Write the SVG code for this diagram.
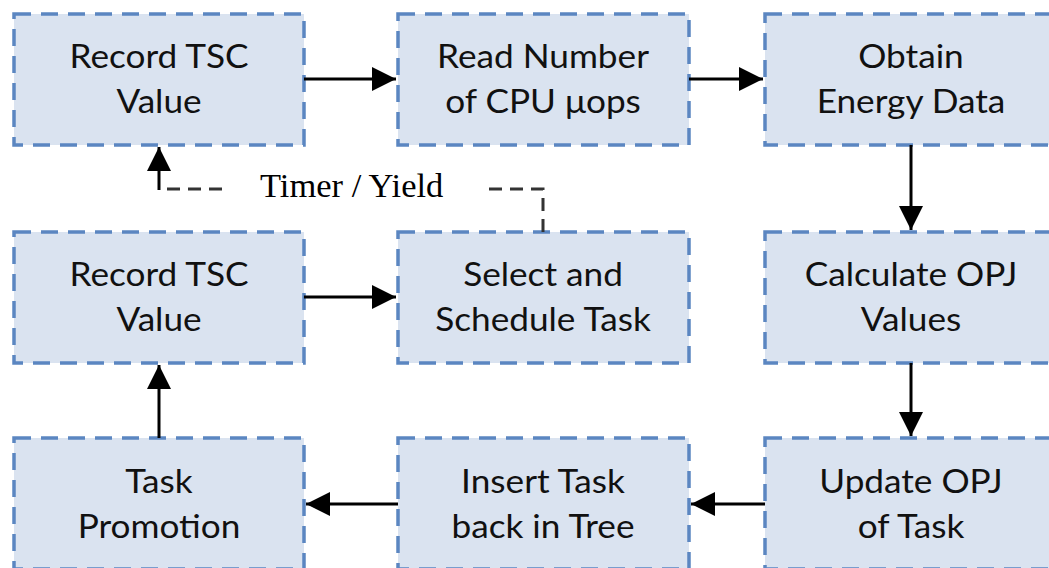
<svg xmlns="http://www.w3.org/2000/svg" width="1049" height="568" viewBox="0 0 1049 568">
  <style>
    .box { fill: #dae3f0; stroke: #5b86c1; stroke-width: 3.5; stroke-dasharray: 17 10; }
    .lbl { font-family: Lato, "Open Sans", sans-serif; font-size: 32px; fill: #111; text-anchor: middle; }
    .flow { stroke: #000; stroke-width: 3; fill: none; marker-end: url(#head); }
    .trig { stroke: #333; stroke-width: 3; fill: none; stroke-dasharray: 13 8; }
    .trig-text { font-family: "Liberation Serif", "Times New Roman", serif; font-size: 33px; fill: #000; }
  </style>
  <defs>
    <marker id="head" markerWidth="9" markerHeight="9" refX="8" refY="4" orient="auto" markerUnits="strokeWidth">
      <path d="M0,0 L8,4 L0,8 Z" fill="#000"/>
    </marker>
  </defs>

  <rect width="1049" height="568" fill="#fff"/>

  <!-- labels are drawn slightly widened: translate to the line centre, then scale x -->
  <g id="record-tsc-top">
    <rect class="box" x="14" y="14" width="290" height="131"/>
    <text class="lbl" transform="translate(159,68) scale(1.1,1)">Record TSC</text>
    <text class="lbl" transform="translate(159,113) scale(1.1,1)">Value</text>
  </g>
  <g id="read-uops">
    <rect class="box" x="398" y="14" width="291" height="131"/>
    <text class="lbl" transform="translate(543,68) scale(1.1,1)">Read Number</text>
    <text class="lbl" transform="translate(543,113) scale(1.1,1)">of CPU μops</text>
  </g>
  <g id="obtain-energy">
    <rect class="box" x="765" y="14" width="292" height="131"/>
    <text class="lbl" transform="translate(911,68) scale(1.1,1)">Obtain</text>
    <text class="lbl" transform="translate(911,113) scale(1.1,1)">Energy Data</text>
  </g>
  <g id="record-tsc-mid">
    <rect class="box" x="14" y="232" width="290" height="131"/>
    <text class="lbl" transform="translate(159,286) scale(1.1,1)">Record TSC</text>
    <text class="lbl" transform="translate(159,331) scale(1.1,1)">Value</text>
  </g>
  <g id="select-schedule">
    <rect class="box" x="398" y="232" width="291" height="131"/>
    <text class="lbl" transform="translate(543,286) scale(1.1,1)">Select and</text>
    <text class="lbl" transform="translate(543,331) scale(1.1,1)">Schedule Task</text>
  </g>
  <g id="calc-opj">
    <rect class="box" x="765" y="232" width="292" height="131"/>
    <text class="lbl" transform="translate(911,286) scale(1.1,1)">Calculate OPJ</text>
    <text class="lbl" transform="translate(911,331) scale(1.1,1)">Values</text>
  </g>
  <g id="task-promotion">
    <rect class="box" x="14" y="438" width="290" height="131"/>
    <text class="lbl" transform="translate(159,493) scale(1.1,1)">Task</text>
    <text class="lbl" transform="translate(159,538) scale(1.1,1)">Promotion</text>
  </g>
  <g id="insert-task">
    <rect class="box" x="398" y="438" width="291" height="131"/>
    <text class="lbl" transform="translate(543,493) scale(1.1,1)">Insert Task</text>
    <text class="lbl" transform="translate(543,538) scale(1.1,1)">back in Tree</text>
  </g>
  <g id="update-opj">
    <rect class="box" x="765" y="438" width="292" height="131"/>
    <text class="lbl" transform="translate(911,493) scale(1.1,1)">Update OPJ</text>
    <text class="lbl" transform="translate(911,538) scale(1.1,1)">of Task</text>
  </g>

  <g id="connectors">
    <line class="flow" x1="304" y1="79" x2="396" y2="79"/>
    <line class="flow" x1="689" y1="79" x2="763" y2="79"/>
    <line class="flow" x1="911" y1="145" x2="911" y2="230"/>
    <line class="flow" x1="911" y1="363" x2="911" y2="436"/>
    <line class="flow" x1="765" y1="504" x2="691" y2="504"/>
    <line class="flow" x1="398" y1="504" x2="306" y2="504"/>
    <line class="flow" x1="159" y1="438" x2="159" y2="365"/>
    <line class="flow" x1="304" y1="297" x2="396" y2="297"/>
    <!-- timer / yield trigger path back to the first TSC read -->
    <path class="trig" d="M543,232 L543,189 L483,189"/>
    <path class="trig" d="M222,189 L161,189"/>
    <line class="flow" x1="159" y1="190" x2="159" y2="147"/>
    <text class="trig-text" transform="translate(260,197) scale(1.045,1)">Timer / Yield</text>
  </g>
</svg>
